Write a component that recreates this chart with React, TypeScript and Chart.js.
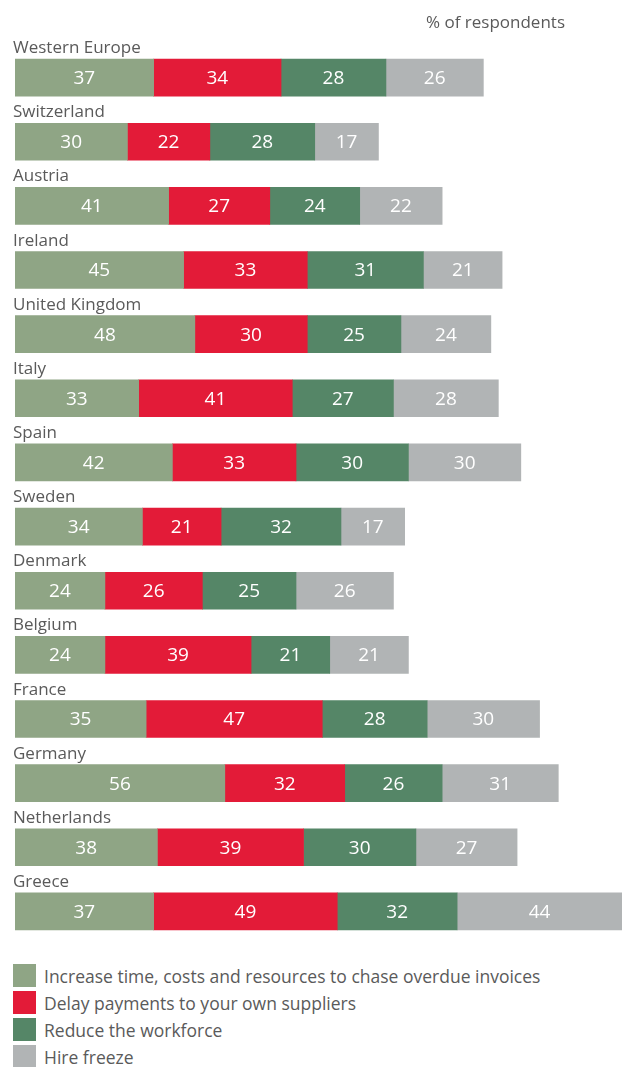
import React, { useEffect, useRef } from "react";
import { Chart, registerables } from "chart.js";

Chart.register(...registerables);

const countries = [
  "Western Europe",
  "Switzerland",
  "Austria",
  "Ireland",
  "United Kingdom",
  "Italy",
  "Spain",
  "Sweden",
  "Denmark",
  "Belgium",
  "France",
  "Germany",
  "Netherlands",
  "Greece",
];

const increaseTime = [37, 30, 41, 45, 48, 33, 42, 34, 24, 24, 35, 56, 38, 37];
const delayPayments = [34, 22, 27, 33, 30, 41, 33, 21, 26, 39, 47, 32, 39, 49];
const reduceWorkforce = [28, 28, 24, 31, 25, 27, 30, 32, 25, 21, 28, 26, 30, 32];
const hireFreeze = [26, 17, 22, 21, 24, 28, 30, 17, 26, 21, 30, 31, 27, 44];

const seriesLabels = [
  "Increase time, costs and resources to chase overdue invoices",
  "Delay payments to your own suppliers",
  "Reduce the workforce",
  "Hire freeze",
];
const seriesColors = ["#8fa585", "#e31b38", "#558667", "#b1b4b5"];

const xMax = 162;
const unitLabel = "% of respondents";

const FONT = "'Open Sans', sans-serif";
const TEXT = "#5a5a5a";

const labelsPlugin = {
  id: "customLabels",
  afterDatasetsDraw(chart: any) {
    const ctx = chart.ctx;
    ctx.save();
    chart.data.datasets.forEach((ds: any, di: number) => {
      const meta = chart.getDatasetMeta(di);
      meta.data.forEach((bar: any, i: number) => {
        const cx = (bar.x + bar.base) / 2;
        ctx.fillStyle = "#ffffff";
        ctx.font = `19px ${FONT}`;
        ctx.textAlign = "center";
        ctx.textBaseline = "middle";
        ctx.fillText(String(ds.data[i]), cx, bar.y + 1);
      });
    });
    const meta0 = chart.getDatasetMeta(0);
    meta0.data.forEach((bar: any, i: number) => {
      const top = bar.y - bar.height / 2;
      ctx.fillStyle = TEXT;
      ctx.font = `17px ${FONT}`;
      ctx.textAlign = "left";
      ctx.textBaseline = "alphabetic";
      ctx.fillText(chart.data.labels[i], 13, top - 6);
    });
    ctx.fillStyle = TEXT;
    ctx.font = `17px ${FONT}`;
    ctx.textAlign = "right";
    ctx.textBaseline = "alphabetic";
    ctx.fillText(unitLabel, 565, 28);
    ctx.restore();
  },
};

export default function App() {
  const canvasRef = useRef<HTMLCanvasElement | null>(null);

  useEffect(() => {
    const canvas = canvasRef.current;
    if (!canvas) return;
    const values = [increaseTime, delayPayments, reduceWorkforce, hireFreeze];
    const chart = new Chart(canvas, {
      type: "bar",
      data: {
        labels: countries,
        datasets: values.map((d, i) => ({
          label: seriesLabels[i],
          data: d,
          backgroundColor: seriesColors[i],
          borderWidth: 0,
          barThickness: 37,
        })),
      },
      options: {
        indexAxis: "y",
        responsive: false,
        maintainAspectRatio: false,
        animation: false,
        layout: { padding: { left: 15, right: 0, top: 45.5, bottom: 6.5 } },
        scales: {
          x: { stacked: true, min: 0, max: xMax, display: false },
          y: { stacked: true, display: false },
        },
        plugins: {
          legend: { display: false },
          tooltip: { enabled: false },
          title: { display: false },
        },
      },
      plugins: [labelsPlugin],
    });
    return () => chart.destroy();
  }, []);

  return (
    <div
      style={{
        position: "absolute",
        left: 0,
        top: 0,
        width: 622,
        height: 1067,
        background: "#ffffff",
        fontFamily: FONT,
      }}
    >
      <canvas
        ref={canvasRef}
        width={622}
        height={950}
        style={{ position: "absolute", left: 0, top: 0, width: 622, height: 950 }}
      />
      {seriesLabels.map((lab, i) => (
        <div
          key={lab}
          style={{
            position: "absolute",
            left: 13,
            top: 964 + i * 27,
            height: 23,
            display: "flex",
            alignItems: "center",
            whiteSpace: "nowrap",
          }}
        >
          <span
            style={{
              display: "inline-block",
              width: 23,
              height: 23,
              background: seriesColors[i],
            }}
          />
          <span style={{ marginLeft: 8, fontSize: 17.5, color: TEXT }}>{lab}</span>
        </div>
      ))}
    </div>
  );
}
